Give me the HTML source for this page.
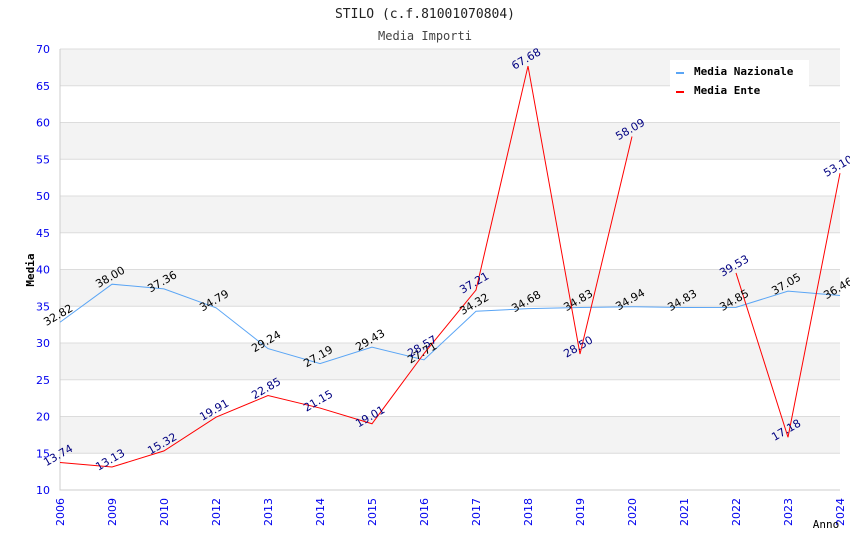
<!DOCTYPE html>
<html><head><meta charset="utf-8"><style>
body{margin:0;background:#fff;}
svg text{font-family:"DejaVu Sans","Liberation Sans",sans-serif;}
.mono{font-family:"DejaVu Sans Mono","Liberation Mono",monospace;}
</style></head><body>
<svg id="c" width="850" height="550" xmlns="http://www.w3.org/2000/svg">
<text class="mono" x="425" y="18" text-anchor="middle" font-size="13" fill="#222">STILO (c.f.81001070804)</text>
<text class="mono" x="425" y="40" text-anchor="middle" font-size="12" fill="#444">Media Importi</text>
<g id="bands"></g><g id="grid"></g><g id="axes"></g><g id="series"></g><g id="labels"></g>
<text class="mono" x="34" y="270" transform="rotate(-90 34 270)" text-anchor="middle" font-size="11" font-weight="bold" fill="#000">Media</text>
<text class="mono" x="826" y="528" text-anchor="middle" font-size="11" fill="#000">Anno</text>
<g>
<rect x="670" y="60" width="139" height="42" fill="#fff"/>
<rect x="676" y="72" width="8" height="2" fill="#5aa5f5"/>
<text class="mono" x="694" y="75" font-size="11" font-weight="bold" fill="#000">Media Nazionale</text>
<rect x="676" y="91" width="8" height="2" fill="#ff0000"/>
<text class="mono" x="694" y="94" font-size="11" font-weight="bold" fill="#000">Media Ente</text>
</g>
</svg>
<script>
const categories=["2006","2009","2010","2012","2013","2014","2015","2016","2017","2018","2019","2020","2021","2022","2023","2024"];
const nazionale=[32.82,38.00,37.36,34.79,29.24,27.19,29.43,27.71,34.32,34.68,34.83,34.94,34.83,34.85,37.05,36.46];
const ente=[13.74,13.13,15.32,19.91,22.85,21.15,19.01,28.57,37.21,67.68,28.50,58.09,null,39.53,17.18,53.10];
const yTicks=[10,15,20,25,30,35,40,45,50,55,60,65,70];
const L=60,R=840,T=49,B=490,yMin=10,yMax=70;
const NS="http://www.w3.org/2000/svg";
const x=i=>L+i*(R-L)/(categories.length-1);
const y=v=>B-(v-yMin)/(yMax-yMin)*(B-T);
function mk(tag,attrs,parent,txt){const e=document.createElementNS(NS,tag);for(const k in attrs)e.setAttribute(k,attrs[k]);if(txt!==undefined)e.textContent=txt;document.getElementById(parent).appendChild(e);return e;}
for(let i=0;i<yTicks.length-1;i++){
  if(i%2===1){const r=mk('rect',{x:L,y:y(yTicks[i+1]),width:R-L,height:y(yTicks[i])-y(yTicks[i+1]),fill:'#f3f3f3'},'bands');
  
  }
}
yTicks.forEach(t=>{
  const l=mk('line',{x1:L,x2:R,y1:y(t),y2:y(t),stroke:'#dcdcdc','stroke-width':1},'grid');
  
  
  const tx=mk('text',{x:L-10,y:y(t)+4,'text-anchor':'end','font-size':11,fill:'#0000ee'},'axes',String(t));
  
  
});
const ax=mk('path',{d:`M${L} ${T}V${B}H${R}`,fill:'none',stroke:'#cccccc'},'axes');


categories.forEach((c,i)=>{
  const tx=mk('text',{x:x(i)+4,y:B+8,'text-anchor':'end','font-size':11,fill:'#0000ee',transform:`rotate(-90 ${x(i)+4} ${B+8})`},'axes',c);
  
  
});
function series(vals,color,lblColor,name){
  let d='',pen=false;
  vals.forEach((v,i)=>{if(v===null){pen=false;return;}d+=(pen?'L':'M')+x(i)+' '+y(v);pen=true;});
  const p=mk('path',{d:d,fill:'none',stroke:color,'stroke-width':1},'series');
  
  
  vals.forEach((v,i)=>{if(v===null)return;
    const px=x(i),py=y(v)-4;
    const t=mk('text',{x:px,y:py,'text-anchor':'middle','font-size':11,fill:lblColor,transform:`rotate(-30 ${px} ${py})`},'labels',v.toFixed(2));
    
    
  });
}
series(nazionale,'#5aa5f5','#000','nazionale');
series(ente,'#ff0000','#000080','ente');
</script>
</body></html>
